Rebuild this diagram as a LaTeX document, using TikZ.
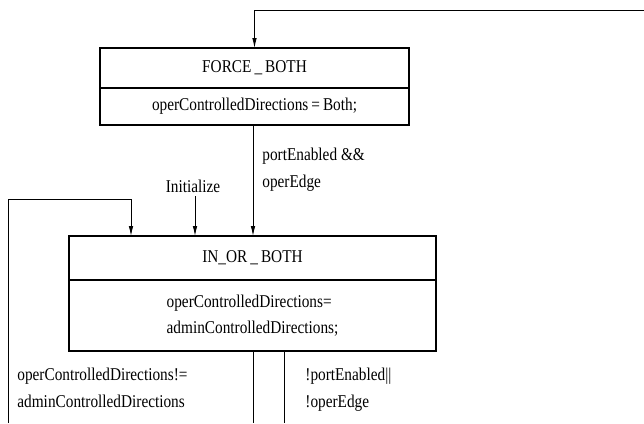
\documentclass[tikz,border=0pt]{standalone}
\usepackage{fontspec}
\setmainfont[FakeStretch=0.85]{Liberation Serif}
\usetikzlibrary{positioning,arrows.meta}

\tikzset{
  statebox/.style={draw, line width=1.8pt, minimum width=#1, inner sep=0pt, outer sep=0pt},
  lbl/.style={align=left, anchor=north west, inner sep=0pt},
  >={Latex[length=10pt,width=4.5pt]}
}

\begin{document}
\begin{tikzpicture}[x=1pt, y=-1pt, line width=0.8pt, font=\fontsize{18}{26.5}\selectfont]
    \useasboundingbox (0,0) rectangle (644,423);
    % state FORCE_BOTH
    \node[statebox=309pt, minimum height=40pt] (forceT) at (254.5,68) {FORCE\,\_\,BOTH};
    \node[statebox=309pt, minimum height=37pt, below=0pt of forceT] (forceB) {operControlledDirections\,=\,Both;};
    % state IN_OR_BOTH
    \node[statebox=367pt, minimum height=44pt] (inT) at (252.5,258) {IN\_OR\,\_\,BOTH};
    \node[statebox=367pt, minimum height=71pt, below=0pt of inT, align=left] (inB) {operControlledDirections=\\adminControlledDirections;};
    % free ends
    \coordinate (topR) at (644,10);
    \coordinate (loopL) at (8,423);
    \coordinate (loopTop) at (131,199);
    \coordinate (outA) at (253,423);
    \coordinate (outB) at (284,423);
    \node (init) at (193,186) {Initialize};
    % transitions
    \draw[->] (topR) -| (forceT.north);
    \draw[->] (forceB.south -| outA) -- (inT.north -| outA);
    \draw[->] (init.south -| 195,0) -- (inT.north -| 195,0);
    \draw[->] (loopL) |- (loopTop) -- (inT.north -| loopTop);
    \draw (inB.south -| outA) -- (outA);
    \draw (inB.south -| outB) -- (outB);
    % conditions
    \node[lbl] (condA) at (262,148) {portEnabled \&\&\\operEdge};
    \node[lbl] (condB) at (17,368) {operControlledDirections!=\\adminControlledDirections};
    \node[lbl] (condC) at (305,368) {!portEnabled||\\!operEdge};
\end{tikzpicture}
\end{document}
